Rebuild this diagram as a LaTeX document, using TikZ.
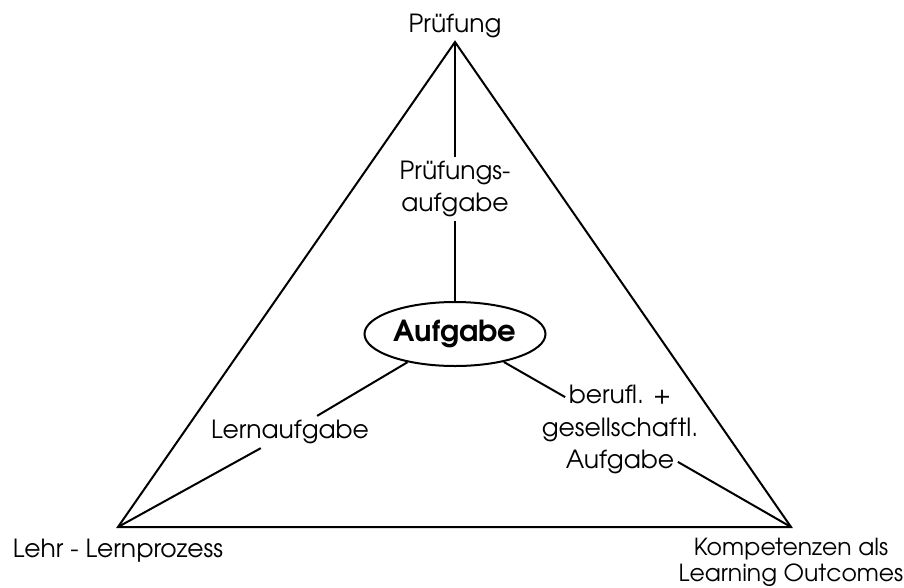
\documentclass[tikz,border=0pt]{standalone}
\usepackage{fontspec}
\setmainfont{texgyreadventor}[Extension=.otf,UprightFont=*-regular,BoldFont=*-bold]
\usetikzlibrary{positioning,shapes.geometric}

\begin{document}
\begin{tikzpicture}[x=1pt,y=-1pt,
    edge/.style={line width=2pt},
    lbl/.style={font=\fontsize{25}{32}\selectfont,inner sep=4pt},
    row/.style={lbl,text height=19pt,text depth=6pt,inner sep=3.5pt},
    task/.style={ellipse,draw,line width=2pt,minimum width=181pt,minimum height=64pt,
        inner sep=0pt,font=\fontsize{29}{32}\selectfont\bfseries}]
    \useasboundingbox (0,0) rectangle (904,587);

    % Corners
    \coordinate (top) at (455,42);
    \coordinate (left) at (118,527);
    \coordinate (right) at (791,527);

    % Labels
    \node[lbl,anchor=base] (exam) at (455,32) {Prüfung};
    \node[lbl,anchor=base] (teach) at (118,557) {Lehr - Lernprozess};
    \node[lbl,align=center,font=\fontsize{23.5}{26}\selectfont,anchor=base] (comp) at (791,581)
        {Kompetenzen als\\Learning Outcomes};

    \node[task] (aufgabe) at (455,334) {Aufgabe};
    \node[lbl,align=center] (examtask) at (455,189) {Prüfungs-\\aufgabe};
    \node[lbl] (learntask) at (290,432) {Lernaufgabe};
    \node[row] (job2) at (620,429.5) {gesellschaftl.};
    \node[row,above=0pt of job2] (job1) {berufl. +};
    \node[row,below=0pt of job2] (job3) {Aufgabe};

    % Triangle
    \draw[edge,line join=miter] (top) -- (left) -- (right) -- cycle;

    % Connectors
    \draw[edge] (top) -- (examtask);
    \draw[edge] (examtask) -- (aufgabe);
    \draw[edge] (aufgabe) -- (learntask);
    \draw[edge] (learntask) -- (left);
    \draw[edge] (aufgabe) -- (job1.west);
    \draw[edge] (job3.east) -- (right);
\end{tikzpicture}
\end{document}
